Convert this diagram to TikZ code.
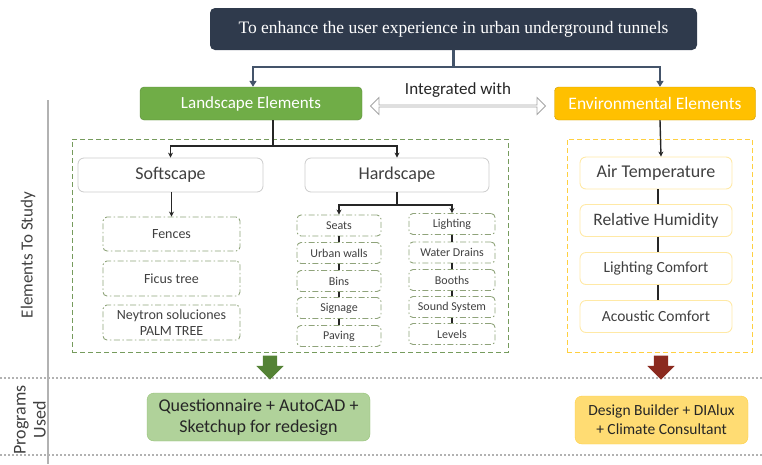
\documentclass[tikz,border=0pt]{standalone}
\usepackage{fontspec}
\setmainfont{Carlito}
\newfontfamily\serifone{Liberation Serif}
\usetikzlibrary{arrows.meta,shapes.arrows}
\definecolor{navy}{HTML}{2F3A4C}
\definecolor{slate}{HTML}{44546A}
\definecolor{leaf}{HTML}{70AD47}
\definecolor{darkleaf}{HTML}{548235}
\definecolor{gold}{HTML}{FFC000}
\definecolor{rust}{HTML}{8B2A1F}
\definecolor{txt}{HTML}{404040}
\definecolor{sage}{HTML}{8FA37A}
\begin{document}
\begin{tikzpicture}[x=1pt,y=-1pt,
  box/.style={draw=gray!40, rounded corners=6pt, fill=white, text=txt, align=center, line width=0.8pt},
  item/.style={draw=sage, rounded corners=4pt, text=txt, align=center, line width=0.9pt,
    dash pattern=on 6pt off 2.5pt on 1.5pt off 2.5pt, minimum height=21pt, font=\fontsize{12}{13}\selectfont},
  envitem/.style={draw=gold!35, rounded corners=6pt, text=txt, align=center, line width=0.9pt,
    minimum width=152pt, minimum height=32pt},
  conn/.style={line width=1.4pt, black!85},
  blockdown/.style={single arrow, rotate=-90, minimum height=24pt, inner sep=7pt,
    single arrow head extend=6.5pt, single arrow tip angle=90}]
\useasboundingbox (0,0) rectangle (762,464);
\node[fill=navy, rounded corners=5pt, minimum width=487pt, minimum height=42pt, text=white,
  font=\serifone\fontsize{17.5}{20}\selectfont] (goal) at (453.5,29) {To enhance the user experience in urban underground tunnels};
\node[fill=leaf, draw=leaf!80!black, rounded corners=4pt, minimum width=222pt, minimum height=33pt, text=white,
  font=\fontsize{17}{20}\selectfont] (land) at (251,103.5) {Landscape Elements};
\node[fill=gold, draw=gold!80!black, rounded corners=4pt, minimum width=201pt, minimum height=33pt, text=white,
  font=\fontsize{17.5}{20}\selectfont] (env) at (655,103.5) {Environmental Elements};
\coordinate (split) at (453.5,67);
\draw[slate, line width=2.5pt] (goal.south) -- (split);
\draw[slate, line width=2.5pt, -{Triangle[length=6pt,width=7pt]}] (split) -| ([xshift=2pt]land.north);
\draw[slate, line width=2.5pt, -{Triangle[length=6pt,width=7pt]}] (split) -| ([xshift=5pt]env.north);
\node[double arrow, draw=gray!70, fill=white, minimum width=17pt, minimum height=175pt,
  double arrow head extend=3pt, double arrow head indent=0pt, inner sep=0pt, line width=0.8pt] (integ) at (458,106) {};
\node[font=\fontsize{17}{19}\selectfont, text=black!85] (integlbl) at (458,90) {Integrated with};
% left band
\draw[gray!60, line width=2pt] (48,100) -- (48,464);
\node[rotate=90, font=\fontsize{17}{19}\selectfont, text=txt] (study) at (28,255) {Elements To Study};
\node[rotate=90, align=center, font=\fontsize{18}{20}\selectfont, text=txt] (used) at (30,420) {Programs\\Used};
\draw[gray!60, line width=2pt, dotted] (0,378) -- (762,378);
\draw[gray!60, line width=2pt, dotted] (0,455) -- (762,455);
% landscape branch
\node[draw=darkleaf!80, dashed, line width=0.9pt, dash pattern=on 5pt off 3pt, minimum width=436pt, minimum height=213pt] (landframe) at (290,245.5) {};
\node[box, minimum width=185pt, minimum height=34pt, font=\fontsize{18}{20}\selectfont] (soft) at (170.5,175) {Softscape};
\node[box, minimum width=184pt, minimum height=34pt, font=\fontsize{18}{20}\selectfont] (hard) at (397,175) {Hardscape};
\coordinate (lsplit) at (273,146);
\draw[conn] (land.south -| lsplit) -- (lsplit);
\draw[conn, -{Stealth[length=5pt,width=5pt]}] (lsplit) -| (soft.north);
\draw[conn, -{Stealth[length=5pt,width=5pt]}] (lsplit) -| (hard.north);
\node[item, minimum width=137pt, minimum height=34pt, font=\fontsize{14}{16}\selectfont] (fences) at (171.5,234) {Fences};
\node[item, minimum width=137pt, minimum height=35pt, font=\fontsize{14}{16}\selectfont] (ficus) at (171.5,278.5) {Ficus tree};
\node[item, minimum width=137pt, minimum height=35pt, font=\fontsize{14}{15.5}\selectfont, inner sep=1pt] (palm) at (171.5,322.5) {Neytron soluciones\\PALM TREE};
\draw[conn, -{Stealth[length=5pt,width=5pt]}] (soft.south -| fences.north) -- (fences.north);
\coordinate (hsplit) at (397,205);
\draw[conn] (hard.south) -- (hsplit);
\foreach \name/\lbl/\y [count=\i] in {seats/Seats/225.5, walls/Urban walls/253, bins/Bins/281, sign/Signage/308, paving/Paving/336}
  \node[item, minimum width=84pt] (\name) at (339,\y) {\lbl};
\foreach \name/\lbl/\y [count=\i] in {light/Lighting/224, drain/Water Drains/252.5, booth/Booths/280, sound/Sound System/307, level/Levels/334}
  \node[item, minimum width=86pt] (\name) at (452,\y) {\lbl};
\draw[conn, -{Stealth[length=5pt,width=5pt]}] (hsplit) -| (seats.north);
\draw[conn, -{Stealth[length=5pt,width=5pt]}] (hsplit) -| (light.north);
\foreach \a/\b in {seats/walls, walls/bins, bins/sign, sign/paving, light/drain, drain/booth, booth/sound, sound/level}
  \draw[conn] (\a.south) -- (\b.north);
% environmental branch
\node[draw=gold!75, dashed, line width=0.9pt, dash pattern=on 5pt off 3pt, minimum width=185pt, minimum height=213pt] (envframe) at (659.5,245.5) {};
\node[envitem, font=\fontsize{18}{20}\selectfont] (air) at (656,173) {Air Temperature};
\node[envitem, font=\fontsize{17.5}{20}\selectfont] (humid) at (656,220.5) {Relative Humidity};
\node[envitem, font=\fontsize{15.5}{18}\selectfont] (lcomf) at (656,268.5) {Lighting Comfort};
\node[envitem, font=\fontsize{15.5}{18}\selectfont] (acomf) at (656,316.5) {Acoustic Comfort};
\draw[conn, -{Stealth[length=5pt,width=5pt]}] ([xshift=5pt]env.south) -- ([xshift=5pt]air.north);
\foreach \a/\b in {air/humid, humid/lcomf, lcomf/acomf}
  \draw[conn] ([xshift=2pt]\a.south) -- ([xshift=2pt]\b.north);
% programs
\node[blockdown, fill=darkleaf] (garrow) at (270,364) {};
\node[blockdown, fill=rust] (rarrow) at (661,364) {};
\node[fill=leaf!55, draw=leaf!75, rounded corners=7pt, minimum width=223pt, minimum height=48pt, align=center,
  text=black!85, font=\fontsize{18}{21}\selectfont] (gprog) at (258.5,417) {Questionnaire + AutoCAD +\\Sketchup for redesign};
\node[fill=gold!55, draw=gold!75, rounded corners=7pt, minimum width=173pt, minimum height=48pt, align=center,
  text=black!85, font=\fontsize{15.5}{19}\selectfont] (oprog) at (661.5,420) {Design Builder + DIAlux\\+ Climate Consultant};
\end{tikzpicture}
\end{document}
